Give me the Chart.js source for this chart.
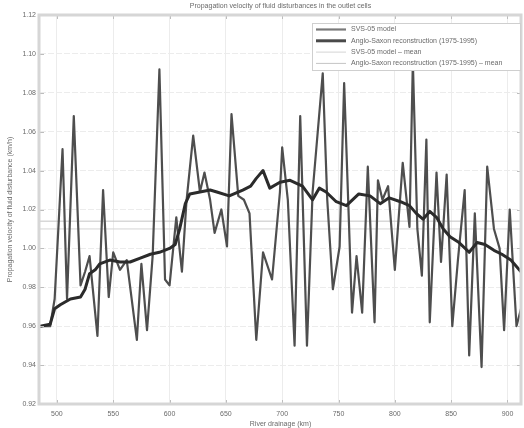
<!DOCTYPE html>
<html><head><meta charset="utf-8">
<script src="https://cdn.jsdelivr.net/npm/chart.js@4"></script>
<style>html,body{margin:0;padding:0;background:#fff}canvas{display:block}</style>
</head><body>
<canvas id="c" width="524" height="428"></canvas>
<script>
// River distance (km) and propagation velocity for the model run
const modelKm = [485,494,498,505,509,515,521,525,529,536,541,546,550,556,562,571,575,580,585,591,
  596,600,606,611,615,621,627,631,636,640,646,651,655,661,666,671,677,683,691,698,
  700,705,711,716,722,727,736,740,745,751,755,762,766,771,776,782,785,789,794,800,
  807,813,816,820,824,828,831,837,841,846,851,856,862,866,871,877,882,888,893,897,
  902,908,912];
const modelVel = [0.960,0.960,0.974,1.051,0.974,1.068,0.981,0.988,0.996,0.955,1.030,0.975,0.998,0.989,0.994,0.953,0.992,0.958,0.996,1.092,
  0.984,0.981,1.016,0.988,1.024,1.058,1.029,1.039,1.025,1.008,1.020,1.001,1.069,1.027,1.025,1.018,0.953,0.998,0.984,1.029,
  1.052,1.025,0.950,1.068,0.950,1.029,1.090,1.025,0.979,1.001,1.085,0.967,0.996,0.967,1.042,0.962,1.035,1.025,1.032,0.989,
  1.044,1.011,1.096,1.010,0.986,1.056,0.962,1.039,0.993,1.038,0.960,0.994,1.030,0.945,1.018,0.939,1.042,1.010,1.000,0.958,
  1.020,0.960,0.969];

// Reconstruction 1975-1995
const reconKm = [485,494,498,503,512,521,525,529,534,538,547,556,565,574,583,591,600,605,609,614,
  618,627,636,642,653,665,672,677,683,689,698,707,718,727,733,739,748,757,768,778,
  787,795,805,813,819,825,831,837,843,849,857,866,873,880,888,895,903,912];
const reconVel = [0.960,0.961,0.969,0.971,0.974,0.975,0.979,0.987,0.989,0.992,0.994,0.993,0.993,0.995,0.997,0.998,1.000,1.002,1.010,1.023,
  1.028,1.029,1.030,1.029,1.027,1.030,1.032,1.036,1.040,1.031,1.034,1.035,1.032,1.025,1.031,1.029,1.024,1.022,1.028,1.027,
  1.023,1.026,1.024,1.022,1.018,1.015,1.019,1.016,1.010,1.006,1.003,0.998,1.003,1.002,0.999,0.997,0.994,0.988];

// Mean levels
const modelMean = 1.010;
const reconMean = 1.014;

// Axis extents and tick spacing
const xRange = [485, 912];
const yRange = [0.92, 1.12];
const xStep = 50;
const yStep = 0.02;

const seriesNames = ['SVS-05 model', 'Anglo-Saxon reconstruction (1975-1995)',
  'SVS-05 model \u2013 mean', 'Anglo-Saxon reconstruction (1975-1995) \u2013 mean'];

const pts = (xs, ys) => xs.map((x, i) => ({x: x, y: ys[i]}));
const level = v => [{x: xRange[0], y: v}, {x: xRange[1], y: v}];

const FONT = "'Liberation Sans', Arial, sans-serif";
const TXT = '#6a6a6a';

// Frame with small inward ticks on all four sides
const frame = {
  id: 'frame',
  afterDatasetsDraw(chart) {
    const {ctx, chartArea: a, scales: {x, y}} = chart;
    ctx.save();
    ctx.strokeStyle = '#bdbdbd';
    ctx.lineWidth = 1;
    ctx.beginPath();
    x.ticks.forEach(t => {
      const px = Math.round(x.getPixelForValue(t.value)) + 0.5;
      ctx.moveTo(px, a.bottom); ctx.lineTo(px, a.bottom - 4);
      ctx.moveTo(px, a.top); ctx.lineTo(px, a.top + 4);
    });
    y.ticks.forEach(t => {
      const py = Math.round(y.getPixelForValue(t.value)) + 0.5;
      ctx.moveTo(a.left, py); ctx.lineTo(a.left + 4, py);
      ctx.moveTo(a.right, py); ctx.lineTo(a.right - 4, py);
    });
    ctx.stroke();
    ctx.strokeStyle = '#d6d6d6';
    ctx.lineWidth = 3;
    ctx.strokeRect(a.left - 1, a.top, a.right - a.left + 1, a.bottom - a.top);
    ctx.restore();
  }
};

// Boxed legend in the upper right of the plot
const boxLegend = {
  id: 'boxLegend',
  afterDraw(chart) {
    const {ctx, chartArea: a} = chart;
    const w = 208, h = 47;
    const x0 = a.right - w - 1, y0 = a.top + 8;
    ctx.save();
    ctx.fillStyle = '#fff';
    ctx.fillRect(x0, y0, w, h);
    ctx.strokeStyle = '#cfcfcf';
    ctx.lineWidth = 1;
    ctx.strokeRect(x0 + 0.5, y0 + 0.5, w, h);
    ctx.font = '7px ' + FONT;
    ctx.textBaseline = 'middle';
    chart.data.datasets.forEach((ds, i) => {
      const yy = y0 + 6.5 + i * 11.3;
      ctx.strokeStyle = ds.legendColor || ds.borderColor;
      ctx.lineWidth = ds.borderWidth;
      ctx.beginPath();
      ctx.moveTo(x0 + 4, yy); ctx.lineTo(x0 + 34, yy);
      ctx.stroke();
      ctx.fillStyle = TXT;
      ctx.fillText(ds.label, x0 + 39, yy);
    });
    ctx.restore();
  }
};

new Chart(document.getElementById('c'), {
  type: 'line',
  data: {
    datasets: [
      {label: seriesNames[0], data: pts(modelKm, modelVel), borderColor: '#4e4e4e', legendColor: '#7a7a7a',
       borderWidth: 2.2, order: 1},
      {label: seriesNames[1], data: pts(reconKm, reconVel), borderColor: '#2b2b2b', legendColor: '#4a4a4a',
       borderWidth: 3, order: 0},
      {label: seriesNames[2], data: level(modelMean), borderColor: '#d4d4d4', borderWidth: 1, order: 2},
      {label: seriesNames[3], data: level(reconMean), borderColor: '#c4c4c4', borderWidth: 1, order: 3}
    ]
  },
  options: {
    responsive: false,
    animation: false,
    parsing: false,
    elements: {point: {radius: 0}, line: {tension: 0, borderJoinStyle: 'round'}},
    layout: {padding: {top: 0, right: 3, left: 0, bottom: 0}},
    plugins: {
      legend: {display: false},
      tooltip: {enabled: false},
      title: {
        display: true, fullSize: false,
        text: 'Propagation velocity of fluid disturbances in the outlet cells',
        color: TXT, font: {family: FONT, size: 7, weight: 'normal'},
        padding: {top: 2, bottom: 4.6}
      }
    },
    scales: {
      x: {
        type: 'linear', min: xRange[0], max: xRange[1],
        afterFit: s => { s.height = 24; },
        ticks: {stepSize: xStep, includeBounds: false, padding: 6, color: TXT,
                font: {family: FONT, size: 7}, maxRotation: 0},
        grid: {color: '#ececec', drawTicks: false},
        border: {display: false},
        title: {display: true, text: 'River drainage (km)', color: TXT,
                font: {family: FONT, size: 7}, padding: {top: 0, bottom: 0}}
      },
      y: {
        type: 'linear', min: yRange[0], max: yRange[1],
        afterFit: s => { s.width = 40; },
        ticks: {stepSize: yStep, includeBounds: false, padding: 4, color: TXT,
                font: {family: FONT, size: 7}},
        grid: {color: '#ececec', drawTicks: false},
        border: {display: false, dash: [6, 2]},
        title: {display: true, text: 'Propagation velocity of fluid disturbance (km/h)', color: TXT,
                font: {family: FONT, size: 7}, padding: {top: 6, bottom: 0}}
      }
    }
  },
  plugins: [frame, boxLegend]
});
</script>
</body></html>
